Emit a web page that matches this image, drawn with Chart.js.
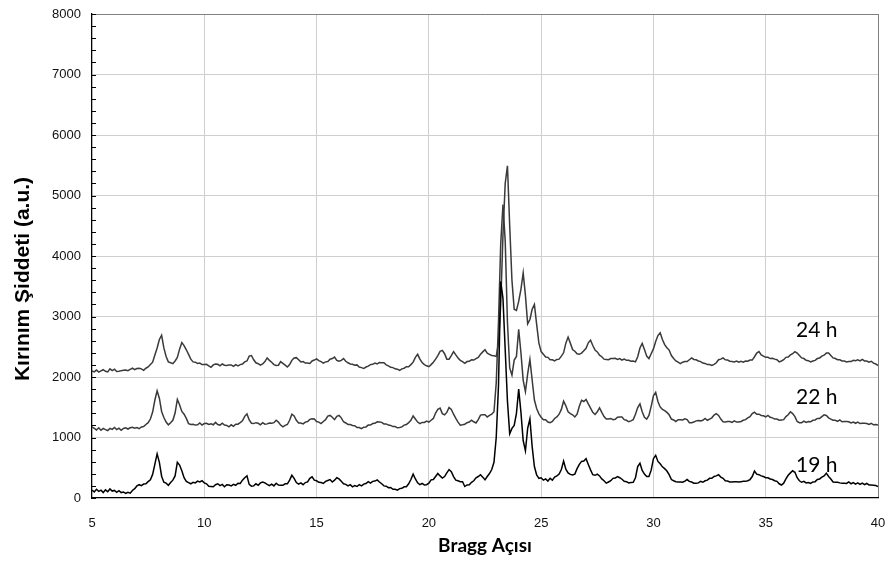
<!DOCTYPE html>
<html>
<head>
<meta charset="utf-8">
<title>XRD — Kırınım Şiddeti</title>
<script src="https://cdn.jsdelivr.net/npm/chart.js@4.4.1/dist/chart.umd.min.js"></script>
<style>
  html, body { margin: 0; padding: 0; background: #fff; }
  canvas { display: block; }
</style>
</head>
<body>
<canvas id="xrd" width="890" height="579"></canvas>
<script>
// XRD patterns after 19 / 22 / 24 h, 0.1° scan step.
const ANGLES = [
  5.0, 5.1, 5.2, 5.3, 5.4, 5.5, 5.6, 5.7, 5.8, 5.9,
  6.0, 6.1, 6.2, 6.3, 6.4, 6.5, 6.6, 6.7, 6.8, 6.9,
  7.0, 7.1, 7.2, 7.3, 7.4, 7.5, 7.6, 7.7, 7.8, 7.9,
  8.0, 8.1, 8.2, 8.3, 8.4, 8.5, 8.6, 8.7, 8.8, 8.9,
  9.0, 9.1, 9.2, 9.3, 9.4, 9.5, 9.6, 9.7, 9.8, 9.9,
  10.0, 10.1, 10.2, 10.3, 10.4, 10.5, 10.6, 10.7, 10.8, 10.9,
  11.0, 11.1, 11.2, 11.3, 11.4, 11.5, 11.6, 11.7, 11.8, 11.9,
  12.0, 12.1, 12.2, 12.3, 12.4, 12.5, 12.6, 12.7, 12.8, 12.9,
  13.0, 13.1, 13.2, 13.3, 13.4, 13.5, 13.6, 13.7, 13.8, 13.9,
  14.0, 14.1, 14.2, 14.3, 14.4, 14.5, 14.6, 14.7, 14.8, 14.9,
  15.0, 15.1, 15.2, 15.3, 15.4, 15.5, 15.6, 15.7, 15.8, 15.9,
  16.0, 16.1, 16.2, 16.3, 16.4, 16.5, 16.6, 16.7, 16.8, 16.9,
  17.0, 17.1, 17.2, 17.3, 17.4, 17.5, 17.6, 17.7, 17.8, 17.9,
  18.0, 18.1, 18.2, 18.3, 18.4, 18.5, 18.6, 18.7, 18.8, 18.9,
  19.0, 19.1, 19.2, 19.3, 19.4, 19.5, 19.6, 19.7, 19.8, 19.9,
  20.0, 20.1, 20.2, 20.3, 20.4, 20.5, 20.6, 20.7, 20.8, 20.9,
  21.0, 21.1, 21.2, 21.3, 21.4, 21.5, 21.6, 21.7, 21.8, 21.9,
  22.0, 22.1, 22.2, 22.3, 22.4, 22.5, 22.6, 22.7, 22.8, 22.9,
  23.0, 23.1, 23.2, 23.3, 23.4, 23.5, 23.6, 23.7, 23.8, 23.9,
  24.0, 24.1, 24.2, 24.3, 24.4, 24.5, 24.6, 24.7, 24.8, 24.9,
  25.0, 25.1, 25.2, 25.3, 25.4, 25.5, 25.6, 25.7, 25.8, 25.9,
  26.0, 26.1, 26.2, 26.3, 26.4, 26.5, 26.6, 26.7, 26.8, 26.9,
  27.0, 27.1, 27.2, 27.3, 27.4, 27.5, 27.6, 27.7, 27.8, 27.9,
  28.0, 28.1, 28.2, 28.3, 28.4, 28.5, 28.6, 28.7, 28.8, 28.9,
  29.0, 29.1, 29.2, 29.3, 29.4, 29.5, 29.6, 29.7, 29.8, 29.9,
  30.0, 30.1, 30.2, 30.3, 30.4, 30.5, 30.6, 30.7, 30.8, 30.9,
  31.0, 31.1, 31.2, 31.3, 31.4, 31.5, 31.6, 31.7, 31.8, 31.9,
  32.0, 32.1, 32.2, 32.3, 32.4, 32.5, 32.6, 32.7, 32.8, 32.9,
  33.0, 33.1, 33.2, 33.3, 33.4, 33.5, 33.6, 33.7, 33.8, 33.9,
  34.0, 34.1, 34.2, 34.3, 34.4, 34.5, 34.6, 34.7, 34.8, 34.9,
  35.0, 35.1, 35.2, 35.3, 35.4, 35.5, 35.6, 35.7, 35.8, 35.9,
  36.0, 36.1, 36.2, 36.3, 36.4, 36.5, 36.6, 36.7, 36.8, 36.9,
  37.0, 37.1, 37.2, 37.3, 37.4, 37.5, 37.6, 37.7, 37.8, 37.9,
  38.0, 38.1, 38.2, 38.3, 38.4, 38.5, 38.6, 38.7, 38.8, 38.9,
  39.0, 39.1, 39.2, 39.3, 39.4, 39.5, 39.6, 39.7, 39.8, 39.9,
  40.0,
];

const I19 = [
  130, 100, 145, 110, 130, 90, 135, 105, 150, 115,
  125, 95, 120, 90, 100, 75, 95, 80, 125, 155,
  200, 220, 205, 230, 235, 270, 300, 390, 560, 730,
  590, 360, 260, 245, 210, 255, 295, 365, 590, 545,
  450, 335, 275, 255, 235, 260, 250, 280, 265, 285,
  250, 235, 195, 190, 185, 220, 235, 205, 225, 185,
  220, 215, 200, 225, 210, 245, 240, 295, 335, 365,
  225, 195, 200, 235, 210, 250, 265, 250, 225, 205,
  230, 200, 245, 215, 210, 210, 235, 235, 295, 375,
  325, 255, 230, 250, 220, 255, 265, 325, 350, 295,
  285, 260, 255, 240, 275, 290, 305, 265, 295, 335,
  315, 275, 235, 225, 200, 220, 185, 205, 190, 220,
  200, 230, 240, 270, 245, 275, 280, 300, 265, 235,
  200, 195, 170, 175, 145, 145, 130, 155, 160, 185,
  185, 235, 305, 395, 315, 250, 220, 240, 215, 220,
  245, 300, 305, 355, 405, 365, 330, 355, 415, 470,
  435, 355, 295, 285, 270, 270, 190, 215, 220, 260,
  285, 335, 355, 385, 345, 300, 355, 405, 470, 590,
  1000, 1850, 3580, 3300, 2450, 1600, 1060, 1150, 1200, 1400,
  1800, 1420, 950, 780, 1150, 1310, 850, 520, 380, 325,
  335, 295, 315, 280, 325, 295, 345, 365, 395, 470,
  610, 475, 415, 390, 380, 395, 485, 555, 605, 610,
  650, 555, 465, 385, 375, 395, 365, 315, 285, 245,
  265, 285, 325, 330, 355, 335, 310, 275, 270, 250,
  255, 260, 335, 520, 575, 455, 395, 355, 355, 460,
  650, 705, 605, 565, 515, 485, 445, 385, 305, 285,
  270, 265, 265, 260, 280, 305, 275, 265, 245, 245,
  250, 275, 260, 285, 295, 325, 325, 355, 365, 385,
  345, 325, 285, 280, 265, 265, 270, 270, 265, 270,
  275, 275, 285, 305, 355, 445, 395, 385, 365, 355,
  335, 335, 315, 305, 285, 275, 235, 215, 245, 315,
  375, 415, 450, 425, 335, 285, 260, 275, 250, 255,
  240, 265, 270, 305, 315, 345, 365, 410, 355, 315,
  265, 260, 260, 250, 245, 245, 240, 265, 235, 255,
  230, 250, 225, 245, 220, 240, 215, 215, 210, 205,
  190,
];

const I22 = [
  1175, 1150, 1125, 1160, 1120, 1150, 1130, 1115, 1150, 1135,
  1165, 1130, 1155, 1120, 1150, 1160, 1140, 1160, 1170, 1155,
  1165, 1145, 1175, 1180, 1215, 1245, 1305, 1420, 1620, 1770,
  1650, 1430, 1330, 1255, 1210, 1245, 1285, 1405, 1630, 1540,
  1430, 1385, 1315, 1230, 1215, 1220, 1205, 1210, 1240, 1205,
  1230, 1235, 1215, 1225, 1210, 1250, 1215, 1205, 1235, 1205,
  1200, 1175, 1210, 1185, 1220, 1220, 1245, 1275, 1350, 1390,
  1290, 1235, 1230, 1245, 1235, 1210, 1245, 1220, 1225, 1240,
  1235, 1245, 1285, 1255, 1205, 1175, 1200, 1215, 1285, 1385,
  1355, 1285, 1240, 1240, 1225, 1255, 1265, 1300, 1310, 1305,
  1265, 1255, 1230, 1265, 1295, 1355, 1365, 1335, 1295, 1350,
  1365, 1325, 1260, 1240, 1215, 1215, 1200, 1195, 1165, 1165,
  1145, 1170, 1175, 1205, 1205, 1230, 1235, 1260, 1255, 1250,
  1225, 1225, 1205, 1200, 1180, 1180, 1160, 1165, 1175, 1205,
  1215, 1245, 1285, 1355, 1305, 1255, 1230, 1250, 1250, 1270,
  1255, 1285, 1315, 1405, 1465, 1485, 1395, 1375, 1415, 1495,
  1465, 1385, 1315, 1255, 1205, 1210, 1220, 1245, 1255, 1285,
  1260, 1240, 1295, 1370, 1375, 1375, 1340, 1365, 1385, 1425,
  1900, 2900, 4200, 4850, 4250, 2900, 2150, 2030, 2280, 2340,
  2790, 2400, 1950, 1760, 2050, 2290, 1950, 1620, 1480, 1390,
  1335, 1295, 1295, 1255, 1245, 1265, 1315, 1340, 1385, 1465,
  1600, 1525, 1425, 1395, 1375, 1340, 1385, 1515, 1615, 1595,
  1630, 1555, 1485, 1415, 1380, 1425, 1490, 1415, 1345, 1305,
  1305, 1315, 1295, 1300, 1335, 1340, 1340, 1295, 1285, 1260,
  1275, 1295, 1385, 1495, 1555, 1425, 1335, 1305, 1365, 1515,
  1690, 1745, 1595, 1505, 1465, 1445, 1415, 1375, 1305, 1290,
  1265, 1295, 1295, 1290, 1310, 1295, 1245, 1245, 1255, 1275,
  1280, 1275, 1285, 1315, 1285, 1305, 1325, 1370, 1395, 1365,
  1305, 1260, 1255, 1265, 1265, 1250, 1275, 1255, 1255, 1265,
  1285, 1295, 1325, 1345, 1395, 1420, 1385, 1385, 1365, 1360,
  1340, 1365, 1335, 1325, 1305, 1305, 1285, 1290, 1295, 1345,
  1375, 1425, 1395, 1345, 1265, 1245, 1245, 1270, 1250, 1265,
  1260, 1285, 1290, 1315, 1315, 1345, 1375, 1365, 1325, 1305,
  1285, 1285, 1265, 1290, 1260, 1265, 1265, 1260, 1240, 1255,
  1235, 1255, 1230, 1235, 1235, 1230, 1215, 1235, 1210, 1215,
  1205,
];

const I24 = [
  2100, 2085, 2115, 2080, 2100, 2120, 2095, 2085, 2135, 2105,
  2130, 2090, 2095, 2105, 2110, 2115, 2105, 2125, 2145, 2120,
  2140, 2145, 2135, 2110, 2145, 2165, 2205, 2245, 2365, 2480,
  2620, 2690, 2480, 2340, 2250, 2235, 2220, 2265, 2325, 2460,
  2570, 2520, 2450, 2375, 2295, 2250, 2245, 2225, 2230, 2205,
  2205, 2210, 2185, 2160, 2200, 2215, 2210, 2185, 2215, 2195,
  2190, 2200, 2200, 2175, 2205, 2185, 2205, 2215, 2250, 2265,
  2345, 2355, 2285, 2235, 2220, 2195, 2215, 2255, 2315, 2275,
  2245, 2205, 2190, 2195, 2255, 2225, 2195, 2165, 2205, 2275,
  2315, 2320, 2285, 2250, 2255, 2230, 2230, 2225, 2265, 2280,
  2300, 2270, 2255, 2230, 2250, 2255, 2295, 2305, 2330, 2275,
  2260, 2275, 2305, 2260, 2235, 2215, 2210, 2195, 2200, 2165,
  2155, 2140, 2165, 2180, 2205, 2210, 2230, 2215, 2240, 2235,
  2235, 2200, 2185, 2160, 2155, 2135, 2130, 2110, 2135, 2145,
  2170, 2170, 2205, 2245, 2325, 2375, 2295, 2240, 2205, 2185,
  2170, 2205, 2245, 2295, 2355, 2425, 2440, 2385, 2295, 2295,
  2355, 2420, 2365, 2315, 2275, 2255, 2225, 2255, 2260, 2285,
  2280, 2305, 2325, 2375, 2415, 2450, 2395, 2375, 2355, 2350,
  2340, 2560, 3200, 4350, 5200, 5490, 4500, 3600, 3120, 3100,
  3250, 3450, 3720, 3350, 2880, 2950, 3120, 3200, 2870, 2560,
  2420, 2375, 2330, 2325, 2285, 2285, 2265, 2290, 2295, 2345,
  2400, 2560, 2660, 2560, 2455, 2425, 2385, 2375, 2395, 2435,
  2475, 2565, 2610, 2520, 2445, 2415, 2360, 2335, 2295, 2290,
  2285, 2305, 2305, 2310, 2290, 2305, 2280, 2295, 2275, 2275,
  2260, 2265, 2250, 2335, 2480, 2555, 2455, 2345, 2305, 2385,
  2465, 2585, 2685, 2730, 2620, 2535, 2485, 2445, 2355, 2305,
  2265, 2245, 2220, 2245, 2255, 2255, 2285, 2315, 2290, 2285,
  2265, 2255, 2230, 2225, 2205, 2205, 2190, 2210, 2235, 2285,
  2295, 2315, 2285, 2280, 2260, 2255, 2250, 2265, 2245, 2260,
  2245, 2265, 2260, 2280, 2280, 2335, 2395, 2420, 2365, 2345,
  2325, 2325, 2305, 2310, 2295, 2285, 2250, 2265, 2285, 2325,
  2330, 2365, 2385, 2420, 2395, 2355, 2315, 2305, 2275, 2270,
  2250, 2265, 2275, 2305, 2315, 2345, 2360, 2395, 2395, 2355,
  2315, 2305, 2285, 2285, 2265, 2265, 2250, 2255, 2255, 2275,
  2270, 2285, 2265, 2290, 2265, 2265, 2245, 2260, 2230, 2215,
  2190,
];

const SERIES_NAMES = ['19 h', '22 h', '24 h'];
const X_TICK_STEP = 5;
const Y_TICK_STEP = 1000;
const Y_MINOR_STEP = 200;

// where the "xx h" tags sit, in data units (angle, intensity)
const TAGS = [
  { text: '24 h', at: [36.35, 2780] },
  { text: '22 h', at: [36.35, 1670] },
  { text: '19 h', at: [36.35, 545] },
];

const LINE_COLORS = ['#000000', '#3a3a3a', '#3a3a3a'];
const GRID = '#cfcfcf';
const FRAME = '#808080';

const toPoints = (ys) => ANGLES.map((a, i) => ({ x: a, y: ys[i] }));

// minor ticks inside the y axis, the "xx h" tags and the rotated y title
const decor = {
  id: 'decor',
  afterDatasetsDraw(chart) {
    const { ctx, chartArea: a, scales: { x, y } } = chart;
    ctx.save();
    ctx.strokeStyle = '#000';
    ctx.lineWidth = 1;
    ctx.beginPath();
    for (let v = 0; v <= y.max; v += Y_MINOR_STEP) {
      const py = Math.round(y.getPixelForValue(v)) + 0.5;
      ctx.moveTo(a.left, py);
      ctx.lineTo(a.left + 4, py);
    }
    ctx.stroke();

    ctx.fillStyle = '#000';
    ctx.font = '21px Lato';
    ctx.textAlign = 'left';
    ctx.textBaseline = 'middle';
    TAGS.forEach((t) => ctx.fillText(t.text, x.getPixelForValue(t.at[0]), y.getPixelForValue(t.at[1])));

    ctx.translate(23, 279);
    ctx.rotate(-Math.PI / 2);
    ctx.font = 'bold 21px "Liberation Sans"';
    ctx.textAlign = 'center';
    ctx.fillText('Kırınım Şiddeti (a.u.)', 0, 0);
    ctx.restore();
  },
};

new Chart(document.getElementById('xrd'), {
  type: 'line',
  data: {
    datasets: [I19, I22, I24].map((ys, i) => ({
      label: SERIES_NAMES[i],
      data: toPoints(ys),
      borderColor: LINE_COLORS[i],
      borderWidth: 1.5,
      pointRadius: 0,
      tension: 0,
      fill: false,
    })),
  },
  options: {
    responsive: false,
    animation: false,
    events: [],
    layout: { padding: { top: 14, right: 12, left: 0, bottom: 0 } },
    plugins: { legend: { display: false }, tooltip: { enabled: false } },
    scales: {
      x: {
        type: 'linear',
        min: 5,
        max: 40,
        afterFit: (s) => { s.height = 81; s.paddingLeft = 0; s.paddingRight = 0; },
        ticks: { stepSize: X_TICK_STEP, padding: 18, color: '#111', font: { family: '"Liberation Sans", Arial', size: 13 } },
        grid: {
          drawTicks: false,
          color: (c) => (c.tick.value === 5 ? 'rgba(0,0,0,0)' : c.tick.value === 40 ? FRAME : GRID),
        },
        border: { color: '#000', width: 1.3 },
        title: {
          display: true,
          text: 'Bragg Açısı',
          color: '#000',
          font: { family: 'Lato', weight: 'bold', size: 19 },
          padding: { top: 0, bottom: 22 },
        },
      },
      y: {
        min: 0,
        max: 8000,
        afterFit: (s) => { s.width = 92; s.paddingTop = 0; s.paddingBottom = 0; },
        ticks: {
          stepSize: Y_TICK_STEP,
          padding: 11,
          color: '#111',
          font: { family: '"Liberation Sans", Arial', size: 13 },
          callback: (v) => String(v),
        },
        grid: {
          drawTicks: false,
          color: (c) => (c.tick.value === 0 ? 'rgba(0,0,0,0)' : c.tick.value === 8000 ? FRAME : GRID),
        },
        border: { color: '#000', width: 1.3 },
      },
    },
  },
  plugins: [decor],
});
</script>
</body>
</html>
